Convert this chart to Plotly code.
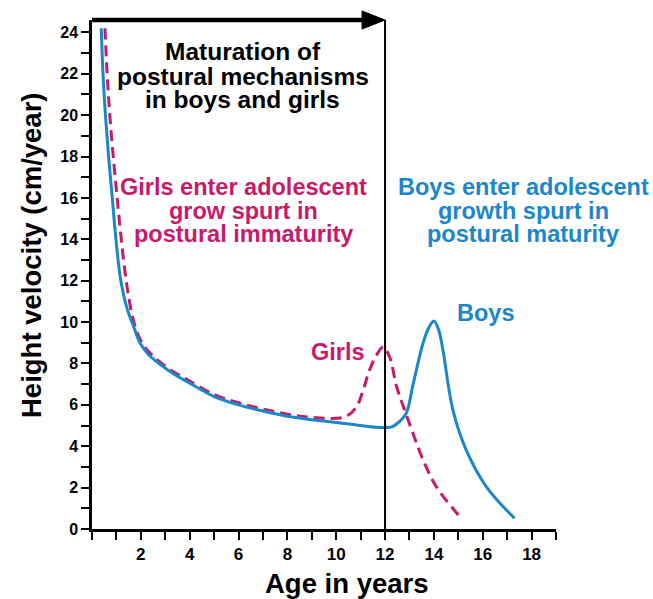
import plotly.graph_objects as go

# ---------------- data ----------------
boys_age = [0.38, 0.45, 0.55, 0.68, 0.83, 0.98, 1.18, 1.45, 1.7, 1.96, 2.3, 2.8, 3.4, 4.0, 5.0, 6.0,
            7.0, 8.0, 9.0, 10.0, 11.0, 11.9, 12.3, 12.6, 12.87, 13.15, 13.56, 13.8, 14.0, 14.2,
            14.37, 14.78, 15.33, 16.15, 17.3]
boys_vel = [24.2, 22.0, 20.0, 18.0, 16.0, 14.0, 12.0, 10.6, 9.8, 9.0, 8.45, 7.95, 7.45, 7.05, 6.4, 6.0,
            5.7, 5.45, 5.28, 5.15, 5.0, 4.9, 4.95, 5.2, 5.6, 7.0, 9.0, 9.75, 10.05, 9.6,
            8.65, 5.75, 3.8, 2.04, 0.52]

girls_age = [0.53, 0.62, 0.73, 0.87, 1.03, 1.2, 1.4, 1.65, 1.85, 2.05, 2.3, 2.8, 3.4, 4.0, 5.0, 6.0,
             7.0, 8.0, 9.0, 10.0, 10.42, 10.83, 11.1, 11.37, 11.65, 11.92, 12.19, 12.47, 12.8,
             13.15, 13.56, 14.1, 15.0]
girls_vel = [24.2, 22.0, 20.0, 18.0, 16.0, 14.0, 12.0, 10.3, 9.5, 9.0, 8.6, 8.05, 7.55, 7.15, 6.5, 6.1,
             5.8, 5.55, 5.4, 5.35, 5.45, 5.9, 6.7, 7.7, 8.4, 8.8, 8.3, 6.9, 5.75,
             4.6, 3.33, 2.04, 0.68]

x_tick_vals = [2, 4, 6, 8, 10, 12, 14, 16, 18]
y_tick_vals = [0, 2, 4, 6, 8, 10, 12, 14, 16, 18, 20, 22, 24]
divider_age = 12
x_max = 19
y_max = 24.6

BLUE = "#1b87c9"
MAGENTA = "#c8196b"
FONT = "Liberation Sans, Arial, Helvetica, sans-serif"

W, H = 653, 599
ML, MR, MT, MB = 92, 97, 20, 70
PW, PH = W - ML - MR, H - MT - MB

fig = go.Figure()

fig.add_trace(go.Scatter(x=girls_age, y=girls_vel, mode="lines", name="Girls",
                         line=dict(color=MAGENTA, width=3, dash="11px,6px", shape="spline", smoothing=1.0),
                         showlegend=False))
fig.add_trace(go.Scatter(x=boys_age, y=boys_vel, mode="lines", name="Boys",
                         line=dict(color=BLUE, width=3, shape="spline", smoothing=1.0),
                         showlegend=False))

# vertical divider at 12 years
fig.add_shape(type="line", xref="x", yref="paper", x0=divider_age, x1=divider_age, y0=0, y1=1,
              line=dict(color="black", width=2))
# arrow along the top (paper coordinates so it is not clipped)
x_tip = divider_age / x_max
x_head = x_tip - 23 / PW
half_h = 9 / PH
fig.add_shape(type="line", xref="paper", yref="paper", x0=0, x1=x_head + 2 / PW, y0=1, y1=1,
              line=dict(color="black", width=4.5))
fig.add_shape(type="path", xref="paper", yref="paper",
              path=f"M {x_head},{1 + half_h} L {x_tip},1 L {x_head},{1 - half_h} Z",
              fillcolor="black", line=dict(color="black", width=1))

def txt(x, y, s, color, size=23.5):
    fig.add_annotation(x=x, y=y, xref="x", yref="y", text=f"<b>{s}</b>", showarrow=False,
                       xanchor="center", yanchor="middle",
                       font=dict(family=FONT, size=size, color=color))

for yy, s in zip([23.1, 21.85, 20.75], ["Maturation of", "postural mechanisms", "in boys and girls"]):
    txt(6.18, yy, s, "black", 24.5)
for yy, s in zip([16.55, 15.35, 14.25], ["Girls enter adolescent", "grow spurt in", "postural immaturity"]):
    txt(6.22, yy, s, MAGENTA)
for yy, s in zip([16.55, 15.35, 14.25], ["Boys enter adolescent", "growth spurt in", "postural maturity"]):
    txt(17.66, yy, s, BLUE)
txt(10.07, 8.55, "Girls", MAGENTA)
txt(16.12, 10.45, "Boys", BLUE)

# axis titles
fig.add_annotation(xref="paper", yref="paper", x=(347 - ML) / PW, y=0, yshift=-54,
                   text="<b>Age in years</b>", showarrow=False, xanchor="center", yanchor="middle",
                   font=dict(family=FONT, size=27.5, color="black"))
fig.add_annotation(xref="paper", yref="paper", x=0, xshift=-61, y=(529 - 255) / PH,
                   text="<b>Height velocity (cm/year)</b>", showarrow=False, textangle=-90,
                   xanchor="center", yanchor="middle",
                   font=dict(family=FONT, size=27.5, color="black"))

fig.update_xaxes(range=[0, x_max], tickmode="array", tickvals=x_tick_vals,
                 ticktext=[f"<b>{v}</b>" for v in x_tick_vals],
                 ticks="outside", ticklen=8, tickwidth=1.6, tickcolor="black",
                 minor=dict(tickmode="linear", tick0=0, dtick=1, ticks="outside", ticklen=8,
                            tickwidth=1.6, tickcolor="black", showgrid=False),
                 showline=True, linecolor="black", linewidth=2.5, showgrid=False, zeroline=False,
                 tickfont=dict(family=FONT, size=17, color="black"))
fig.update_yaxes(range=[0, y_max], tickmode="array", tickvals=y_tick_vals,
                 ticktext=[f"<b>{v}</b>" for v in y_tick_vals],
                 ticks="outside", ticklen=8, tickwidth=1.6, tickcolor="black",
                 minor=dict(tickmode="linear", tick0=0, dtick=1, ticks="outside", ticklen=8,
                            tickwidth=1.6, tickcolor="black", showgrid=False),
                 showline=True, linecolor="black", linewidth=2.5, showgrid=False, zeroline=False,
                 tickfont=dict(family=FONT, size=16, color="black"))

fig.update_layout(width=W, height=H, margin=dict(l=ML, r=MR, t=MT, b=MB),
                  plot_bgcolor="white", paper_bgcolor="white", showlegend=False)

fig.write_html("out.html", config={"displayModeBar": False},
               post_script="document.body.style.margin='0';document.body.style.overflow='hidden';")
